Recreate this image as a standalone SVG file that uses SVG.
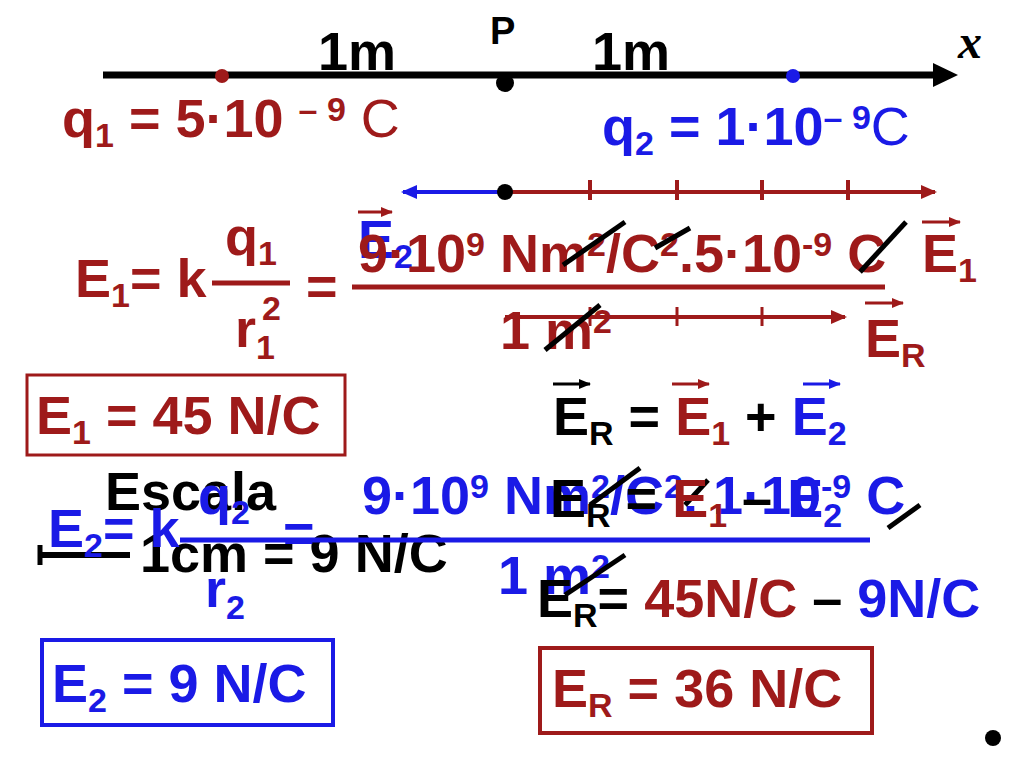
<svg xmlns="http://www.w3.org/2000/svg" width="1024" height="768" viewBox="0 0 1024 768">
<defs>
<style>
text{font-family:"Liberation Sans",Arial,sans-serif;font-weight:bold;font-size:54px}
.r{fill:#9e1a1a}.b{fill:#1a1ae6}.k{fill:#000}
.s{font-size:34px}
.sl{stroke:#000;stroke-width:5}
.v{stroke-width:3}
</style>
<marker id="ar" markerWidth="16" markerHeight="14" refX="14" refY="7" orient="auto" markerUnits="userSpaceOnUse"><path d="M0,0L16,7L0,14z" fill="#9e1a1a"/></marker>
<marker id="ab" markerWidth="16" markerHeight="14" refX="14" refY="7" orient="auto" markerUnits="userSpaceOnUse"><path d="M0,0L16,7L0,14z" fill="#1a1ae6"/></marker>
<marker id="av" markerWidth="12" markerHeight="10" refX="11" refY="5" orient="auto" markerUnits="userSpaceOnUse"><path d="M0,0L12,5L0,10z" fill="context-stroke"/></marker>
</defs>
<rect width="1024" height="768" fill="#fff"/>
<g id="connectors">
<line x1="103" y1="75" x2="940" y2="75" stroke="#000" stroke-width="7"/>
<path d="M933,63L958,75L933,87z" fill="#000"/>
<line x1="505" y1="192" x2="935" y2="192" stroke="#9e1a1a" stroke-width="4" marker-end="url(#ar)"/>
<line x1="505" y1="192" x2="403" y2="192" stroke="#1a1ae6" stroke-width="4" marker-end="url(#ab)"/>
<g stroke="#9e1a1a" stroke-width="4"><line x1="590" y1="180" x2="590" y2="200"/><line x1="677" y1="180" x2="677" y2="200"/><line x1="762" y1="180" x2="762" y2="200"/><line x1="848" y1="180" x2="848" y2="200"/></g>
<line x1="505" y1="317" x2="845" y2="317" stroke="#9e1a1a" stroke-width="4" marker-end="url(#ar)"/>
<g stroke="#9e1a1a" stroke-width="3"><line x1="590" y1="307" x2="590" y2="326"/><line x1="677" y1="307" x2="677" y2="326"/><line x1="762" y1="307" x2="762" y2="326"/></g>
</g>
<g id="points">
<circle cx="222" cy="76" r="7" fill="#9e1a1a"/>
<circle cx="505" cy="83" r="9" fill="#000"/>
<circle cx="793" cy="76" r="7" fill="#1a1ae6"/>
<circle cx="505" cy="192" r="8" fill="#000"/>
<circle cx="993" cy="738" r="8" fill="#000"/>
</g>
<g id="labels">
<text x="318" y="70" class="k" font-size="50">1m</text>
<text x="490" y="44" class="k" style="font-size:38px">P</text>
<text x="592" y="70" class="k" font-size="50">1m</text>
<text x="958" y="58" style="font-family:'Liberation Serif',serif;font-style:italic;font-size:48px">x</text>
<text x="62" y="137" class="r">q<tspan class="s" dy="10">1</tspan><tspan dy="-10"> = 5·10 </tspan><tspan class="s" dy="-16">– 9</tspan><tspan dy="16" font-weight="normal"> C</tspan></text>
<text x="602" y="145" class="b">q<tspan class="s" dy="10">2</tspan><tspan dy="-10"> = 1·10</tspan><tspan class="s" dy="-16">– 9</tspan><tspan dy="16" font-weight="normal">C</tspan></text>
<text x="358" y="258" class="b">E<tspan class="s" dy="10">2</tspan></text>
<line x1="358" y1="212" x2="392" y2="212" stroke="#9e1a1a" class="v" marker-end="url(#av)"/>
<text x="922" y="272" class="r">E<tspan class="s" dy="10">1</tspan></text>
<line x1="922" y1="222" x2="960" y2="222" stroke="#9e1a1a" class="v" marker-end="url(#av)"/>
<text x="865" y="357" class="r">E<tspan class="s" dy="10">R</tspan></text>
<line x1="865" y1="303" x2="903" y2="303" stroke="#9e1a1a" class="v" marker-end="url(#av)"/>
</g>
<g id="e1calc">
<text x="75" y="297" class="r">E<tspan class="s" dy="10">1</tspan><tspan dy="-10">= k</tspan></text>
<text x="225" y="255" class="r">q<tspan class="s" dy="10">1</tspan></text>
<line x1="212" y1="283" x2="290" y2="283" stroke="#9e1a1a" stroke-width="5"/>
<text x="235" y="347" class="r">r<tspan class="s" dy="12">1</tspan></text>
<text x="262" y="320" class="r s">2</text>
<text x="306" y="305" class="r">=</text>
<line x1="352" y1="287" x2="885" y2="287" stroke="#9e1a1a" stroke-width="5"/>
<text x="358" y="272" class="r">9·10<tspan class="s" dy="-16">9</tspan><tspan dy="16"> Nm</tspan><tspan class="s" dy="-16">2</tspan><tspan dy="16">/C</tspan><tspan class="s" dy="-16">2</tspan><tspan dy="16">.5·10</tspan><tspan class="s" dy="-16">-9</tspan><tspan dy="16"> C</tspan></text>
<text x="500" y="349" class="r">1 m<tspan class="s" dy="-16">2</tspan></text>
<line x1="563" y1="265" x2="625" y2="222" class="sl"/>
<line x1="655" y1="248" x2="690" y2="228" class="sl"/>
<line x1="860" y1="272" x2="906" y2="222" class="sl"/>
<line x1="545" y1="350" x2="600" y2="305" class="sl"/>
</g>
<g id="box1"><rect x="27" y="375" width="318" height="80" fill="none" stroke="#9e1a1a" stroke-width="3"/><text x="36" y="434" class="r">E<tspan class="s" dy="10">1</tspan><tspan dy="-10"> = 45 N/C</tspan></text></g>
<g id="sum1">
<text x="553" y="435" class="k">E<tspan class="s" dy="10">R</tspan><tspan dy="-10"> = </tspan><tspan class="r">E</tspan><tspan class="r s" dy="10">1</tspan><tspan dy="-10"> + </tspan><tspan class="b">E</tspan><tspan class="b s" dy="10">2</tspan></text>
<line x1="553" y1="384" x2="590" y2="384" stroke="#000" class="v" marker-end="url(#av)"/>
<line x1="672" y1="384" x2="709" y2="384" stroke="#9e1a1a" class="v" marker-end="url(#av)"/>
<line x1="803" y1="384" x2="840" y2="384" stroke="#1a1ae6" class="v" marker-end="url(#av)"/>
</g>
<g id="escala">
<text x="105" y="510" class="k">Escala</text>
<line x1="40" y1="555" x2="130" y2="555" stroke="#000" stroke-width="6"/>
<line x1="40" y1="545" x2="40" y2="565" stroke="#000" stroke-width="5"/>
<text x="140" y="572" class="k">1cm = 9 N/C</text>
</g>
<g id="e2calc">
<text x="48" y="547" class="b">E<tspan class="s" dy="10">2</tspan><tspan dy="-10">= k</tspan></text>
<text x="198" y="514" class="b">q<tspan class="s" dy="10">2</tspan></text>
<text x="205" y="607" class="b">r<tspan class="s" dy="12">2</tspan></text>
<text x="283" y="552" class="b">=</text>
<line x1="180" y1="540" x2="870" y2="540" stroke="#1a1ae6" stroke-width="5"/>
<text x="362" y="514" class="b">9·10<tspan class="s" dy="-16">9</tspan><tspan dy="16"> Nm</tspan><tspan class="s" dy="-16">2</tspan><tspan dy="16">/C</tspan><tspan class="s" dy="-16">2</tspan><tspan dy="16">. 1·10</tspan><tspan class="s" dy="-16">-9</tspan><tspan dy="16"> C</tspan></text>
<text x="498" y="594" class="b">1 m<tspan class="s" dy="-16">2</tspan></text>
<line x1="590" y1="505" x2="640" y2="468" class="sl"/>
<line x1="685" y1="505" x2="708" y2="480" class="sl"/>
<line x1="888" y1="528" x2="920" y2="505" class="sl"/>
<line x1="565" y1="595" x2="625" y2="555" class="sl"/>
<text x="550" y="517" class="k">E<tspan class="s" dy="10">R</tspan><tspan dy="-10"> = </tspan><tspan class="r">E</tspan><tspan class="r s" dy="10">1</tspan><tspan dy="-10"> – </tspan><tspan class="b">E</tspan><tspan class="b s" dy="10">2</tspan></text>
<text x="537" y="617" class="k">E<tspan class="s" dy="10">R</tspan><tspan dy="-10">= </tspan><tspan class="r">45N/C</tspan><tspan> – </tspan><tspan class="b">9N/C</tspan></text>
</g>
<g id="box2"><rect x="42" y="640" width="291" height="85" fill="none" stroke="#1a1ae6" stroke-width="4"/><text x="52" y="702" class="b">E<tspan class="s" dy="10">2</tspan><tspan dy="-10"> = 9 N/C</tspan></text></g>
<g id="box3"><rect x="540" y="648" width="332" height="85" fill="none" stroke="#9e1a1a" stroke-width="4"/><text x="552" y="707" class="r">E<tspan class="s" dy="10">R</tspan><tspan dy="-10"> = 36 N/C</tspan></text></g>
</svg>
